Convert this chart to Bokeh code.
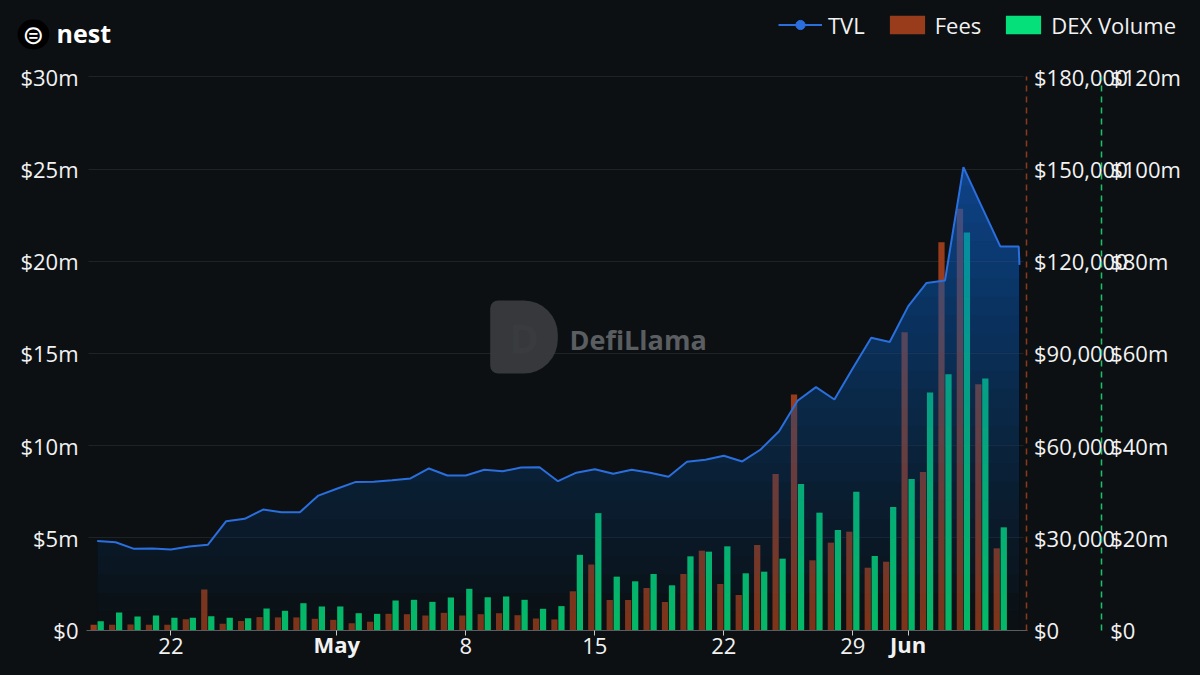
import numpy as np
import pandas as pd
from bokeh.plotting import figure
from bokeh.models import (Range1d, LinearAxis, FixedTicker, Label, Legend,
                          LegendItem, ColumnDataSource, Grid)
from bokeh.embed import file_html
from bokeh.resources import INLINE

# ---------------- data ----------------
TITLE = "nest"

# TVL (USD millions), daily from 2025-04-18 to 2025-06-07, plus latest reading
tvl_m = [4.82, 4.76, 4.40, 4.42, 4.37, 4.53, 4.62, 5.90, 6.03, 6.53, 6.39, 6.39, 7.29,
         7.66, 8.02, 8.04, 8.12, 8.22, 8.76, 8.38, 8.38, 8.69, 8.61, 8.81, 8.83, 8.07,
         8.53, 8.72, 8.47, 8.69, 8.53, 8.31, 9.12, 9.23, 9.45, 9.14, 9.79, 10.78, 12.43,
         13.17, 12.50, 14.20, 15.85, 15.62,
         17.55, 18.82, 18.95, 25.10, 22.95, 20.80, 20.80,
         19.80]
tvl_dates = list(pd.date_range("2025-04-18", "2025-06-07", freq="D")) + [pd.Timestamp("2025-06-07 01:00")]

# Daily bars, 2025-04-18 .. 2025-06-06
bar_dates = list(pd.date_range("2025-04-18", "2025-06-06", freq="D"))
fees_usd = [1700, 1700, 1800, 1700, 1700, 3500, 13200, 2000, 2900, 4200, 4100, 4100, 3650,
            3300, 2200, 2700, 5270, 5140, 4720, 5590, 4720, 5140, 5470, 4820, 3740, 3440,
            12600, 21300, 9760, 9760, 13670, 9110, 18220, 25800, 14970, 11390, 27660, 50760,
            76600, 22680, 28410, 31990, 20270, 22220,
            96900, 51400, 126200, 137050, 79960, 26570]
dex_volume_m = [1.91, 3.80, 2.93, 3.15, 2.65, 2.65, 3.00, 2.65, 2.56, 4.66, 4.16, 5.81, 5.10,
                5.10, 3.64, 3.50, 6.40, 6.55, 6.10, 7.05, 8.93, 7.10, 7.27, 6.55, 4.60, 5.18,
                16.30, 25.35, 11.57, 10.56, 12.15, 9.69, 15.98, 16.99, 18.15, 12.30, 12.65, 15.47,
                31.67, 25.45, 21.69, 30.00, 16.05, 26.68,
                32.75, 51.50, 55.50, 86.20, 54.55, 22.27]

tvl_ticks = [0, 5, 10, 15, 20, 25, 30]
tvl_tick_labels = ["$0", "$5m", "$10m", "$15m", "$20m", "$25m", "$30m"]
fees_ticks = [0, 30000, 60000, 90000, 120000, 150000, 180000]
fees_tick_labels = ["$0", "$30,000", "$60,000", "$90,000", "$120,000", "$150,000", "$180,000"]
dex_ticks = [0, 20, 40, 60, 80, 100, 120]
dex_tick_labels = ["$0", "$20m", "$40m", "$60m", "$80m", "$100m", "$120m"]
day_tick_dates = ["2025-04-22", "2025-05-08", "2025-05-15", "2025-05-22", "2025-05-29"]
day_tick_labels = ["22", "8", "15", "22", "29"]
month_tick_dates = ["2025-05-01", "2025-06-01"]
month_tick_labels = ["May", "Jun"]

# ---------------- style / layout ----------------
W, H = 1200, 675
BG = "#0c1013"
GRID_C = "#1d2327"
TXT = "#f2f2f2"
FONT = "Open Sans"
TVL_C = "#2a6fdd"
AREA_C = "#2172e5"
FEES_C = "#983c1c"
DEX_C = "#05e07a"
FEES_AXIS_C = "#8a3a1c"
DEX_AXIS_C = "#17c46a"
DAY = 86400000.0

PX_PER_DAY = 18.43     # horizontal scale
X0_PX = 96.7           # where the first day sits
PX_PER_M = 18.44       # vertical scale of the TVL axis
BASE_PX = 629.5        # where $0 sits


def ms(d):
    return pd.Timestamp(d).value / 1e6


x0 = ms("2025-04-18")


def x_at(px):
    return x0 + (px - X0_PX) / PX_PER_DAY * DAY


y_lo = -(H - BASE_PX) / PX_PER_M
y_hi = BASE_PX / PX_PER_M

tx = np.array([ms(d) for d in tvl_dates])
ty = np.array(tvl_m, dtype=float)
bx = np.array([ms(d) for d in bar_dates])

p = figure(width=W, height=H, output_backend="svg", toolbar_location=None,
           x_axis_type="datetime", x_axis_location=None, y_axis_location=None,
           x_range=Range1d(x_at(0), x_at(W)), y_range=Range1d(y_lo, y_hi),
           background_fill_color=BG, border_fill_color=BG, outline_line_color=None,
           min_border=0)
p.extra_y_ranges = {"fees": Range1d(y_lo * 6000, y_hi * 6000),
                    "dex": Range1d(y_lo * 4, y_hi * 4)}
for g in p.grid:
    g.visible = False

# horizontal grid lines limited to the plotting area
x_left, x_right = x_at(88), x_at(1023)
if "cross_bounds" in Grid.properties():
    p.add_layout(Grid(dimension=1, ticker=FixedTicker(ticks=tvl_ticks[1:]),
                      cross_bounds=(x_left, x_right), grid_line_color=GRID_C))
    grid_tick_in = 0
else:
    grid_tick_in = 935

# left axis (TVL)
ya = LinearAxis(ticker=FixedTicker(ticks=tvl_ticks),
                major_label_overrides={float(t): l for t, l in zip(tvl_ticks, tvl_tick_labels)},
                fixed_location=x_left, bounds=(0, 30), level="underlay",
                axis_line_color=None, major_tick_out=0, major_tick_in=grid_tick_in,
                major_tick_line_color=GRID_C if grid_tick_in else None,
                minor_tick_line_color=None, major_label_standoff=10,
                major_label_text_font=FONT, major_label_text_font_size="22px",
                major_label_text_color=TXT)
p.add_layout(ya, "left")

# bottom axis: day numbers
day_ms = [ms(d) for d in day_tick_dates]
xa = LinearAxis(ticker=FixedTicker(ticks=day_ms),
                major_label_overrides={t: l for t, l in zip(day_ms, day_tick_labels)},
                fixed_location=0, bounds=(x_at(86), x_at(1027)),
                axis_line_color="#5a5e62", major_tick_line_color="#c8c8c8",
                major_tick_out=5, major_tick_in=0, minor_tick_line_color=None,
                major_label_standoff=3, major_label_text_font=FONT,
                major_label_text_font_size="22px", major_label_text_color=TXT)
p.add_layout(xa, "below")

# bottom axis: month names in bold on the same baseline
month_ms = [ms(d) for d in month_tick_dates]
ma = LinearAxis(ticker=FixedTicker(ticks=month_ms),
                major_label_overrides={t: l for t, l in zip(month_ms, month_tick_labels)},
                fixed_location=0, bounds=(x_at(86), x_at(1027)),
                axis_line_color=None, major_tick_line_color="#c8c8c8",
                major_tick_out=5, major_tick_in=0, minor_tick_line_color=None,
                major_label_standoff=-6, major_label_text_font=FONT,
                major_label_text_font_size="22px", major_label_text_font_style="bold",
                major_label_text_color=TXT)
p.add_layout(ma, "below")

# right axis: fees
fa = LinearAxis(y_range_name="fees", ticker=FixedTicker(ticks=fees_ticks),
                major_label_overrides={float(t): l for t, l in zip(fees_ticks, fees_tick_labels)},
                fixed_location=x_at(1025.5), bounds=(0, 180000),
                axis_line_color=FEES_AXIS_C, axis_line_dash="6 5", axis_line_width=1.5,
                major_tick_line_color=None, minor_tick_line_color=None,
                major_label_standoff=2, major_label_text_font=FONT,
                major_label_text_font_size="22px", major_label_text_color=TXT)
p.add_layout(fa, "right")

# right axis: DEX volume (its labels overlap the fees labels, as in the original)
da = LinearAxis(y_range_name="dex", ticker=FixedTicker(ticks=dex_ticks),
                major_label_overrides={float(t): l for t, l in zip(dex_ticks, dex_tick_labels)},
                fixed_location=x_at(1100.7), bounds=(0, 120),
                axis_line_color=DEX_AXIS_C, axis_line_dash="6 5", axis_line_width=1.5,
                major_tick_line_color=None, minor_tick_line_color=None,
                major_label_standoff=3, major_label_text_font=FONT,
                major_label_text_font_size="22px", major_label_text_color=TXT)
p.add_layout(da, "right")

# bars
fees_src = ColumnDataSource(dict(x=bx - 0.19 * DAY, top=fees_usd))
dex_src = ColumnDataSource(dict(x=bx + 0.19 * DAY, top=dex_volume_m))
fees_r = p.vbar(x="x", top="top", bottom=0, width=0.34 * DAY, source=fees_src,
                y_range_name="fees", fill_color=FEES_C, line_color=None)
dex_r = p.vbar(x="x", top="top", bottom=0, width=0.34 * DAY, source=dex_src,
               y_range_name="dex", fill_color=DEX_C, line_color=None)


# TVL area: vertical gradient built from stacked translucent bands
def clip_above(xs, ys, t):
    ox, oy = [], []
    for i in range(len(xs)):
        if i > 0:
            ya_, yb_ = ys[i - 1], ys[i]
            if (ya_ - t) * (yb_ - t) < 0:
                f = (t - ya_) / (yb_ - ya_)
                ox.append(xs[i - 1] + f * (xs[i] - xs[i - 1]))
                oy.append(t)
        ox.append(xs[i])
        oy.append(max(ys[i], t))
    return ox, oy


p.varea(x=tx, y1=0, y2=ty, fill_color=BG, fill_alpha=0.18)
vmax = float(ty.max())
N = 25
prev = 0.0
for k in range(N):
    t = vmax * k / N
    c = 0.6 * (k + 0.5) / N
    a = 1 - (1 - c) / (1 - prev)
    prev = c
    cx, cy = clip_above(tx, ty, t)
    p.varea(x=cx, y1=t, y2=cy, fill_color=AREA_C, fill_alpha=a)

tvl_r = p.line(tx, ty, line_color=TVL_C, line_width=2)
# legend-only marker (no visible point on the chart)
tvl_marker = p.scatter(x=[float("nan")], y=[float("nan")], marker="circle", size=15,
                       fill_color=TVL_C, line_color=TVL_C)

legend = Legend(items=[LegendItem(label="TVL", renderers=[tvl_r, tvl_marker]),
                       LegendItem(label="Fees", renderers=[fees_r]),
                       LegendItem(label="DEX Volume", renderers=[dex_r])],
                location=(778, H - 39.5), orientation="horizontal",
                background_fill_alpha=0, border_line_color=None,
                label_text_color=TXT, label_text_font=FONT, label_text_font_size="22px",
                glyph_width=44, glyph_height=23, spacing=20, label_standoff=6,
                padding=0, margin=0)
p.add_layout(legend)

# title
has_radius = "border_radius" in Label.properties()
p.add_layout(Label(x=56, y=H - 32, x_units="screen", y_units="screen", text=TITLE,
                   text_align="left", text_baseline="middle", text_font=FONT,
                   text_font_size="25px", text_font_style="bold", text_color="#ffffff"))
icon_kw = {"border_radius": 15} if has_radius else {}
icon = Label(x=33, y=H - 34, x_units="screen", y_units="screen", text="\u229c",
             text_align="center", text_baseline="middle", text_font="DejaVu Sans",
             text_font_size="26px", text_color="#ffffff",
             background_fill_color="#000000", **icon_kw)
try:
    icon.padding = dict(left=5, right=5, top=0, bottom=0)
except Exception:
    icon.padding = 2
p.add_layout(icon)

# watermark
d_kw = {"border_radius": (8, 34, 34, 8)} if has_radius else {}
d_label = Label(x=523.5, y=H - 336.5, x_units="screen", y_units="screen", text="D",
                text_align="center", text_baseline="middle", text_font=FONT,
                text_font_size="40px", text_font_style="bold", text_color="#393b3e",
                background_fill_color="#393b3e", background_fill_alpha=0.95, **d_kw)
try:
    d_label.padding = dict(left=19, right=19, top=9, bottom=9)
except Exception:
    d_label.padding = 12
p.add_layout(d_label)
p.add_layout(Label(x=569, y=H - 338.8, x_units="screen", y_units="screen", text="DefiLlama",
                   text_align="left", text_baseline="middle", text_font=FONT,
                   text_font_size="27px", text_font_style="bold", text_color="#5b5e61"))

html = file_html(p, INLINE)
html = html.replace("</head>",
                    "<style>html, body { margin: 0; padding: 0; background-color: %s; overflow: hidden; }</style>\n</head>" % BG, 1)
open("out.html", "w").write(html)
